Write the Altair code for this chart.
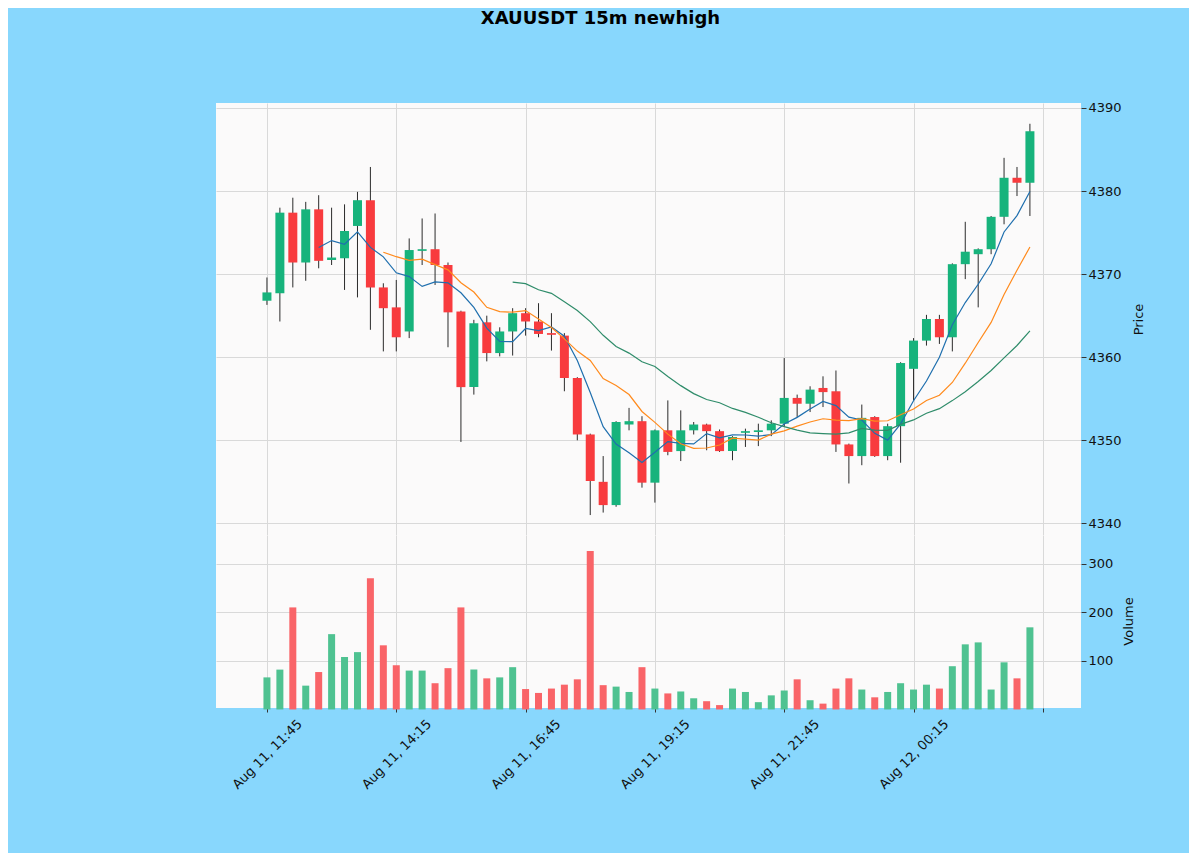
import altair as alt
import pandas as pd

opens = [4366.8, 4367.7, 4377.4, 4371.4, 4377.8, 4371.7, 4371.9, 4375.8, 4378.9, 4368.4,
         4366.0, 4363.1, 4372.8, 4373.0, 4371.1, 4365.5, 4356.4, 4364.2, 4360.5, 4363.1,
         4365.3, 4364.3, 4362.9, 4362.6, 4357.5, 4350.7, 4345.0, 4342.2, 4351.9, 4352.3,
         4344.9, 4351.2, 4348.7, 4351.2, 4351.9, 4351.1, 4348.7, 4350.9, 4351.0, 4351.2,
         4352.0, 4355.1, 4354.4, 4356.3, 4355.9, 4349.5, 4348.1, 4352.8, 4348.1, 4351.7,
         4358.6, 4362.0, 4364.6, 4362.4, 4371.2, 4372.4, 4373.0, 4376.9, 4381.6, 4381.0]
highs = [4369.6, 4378.0, 4379.2, 4378.7, 4379.5, 4378.0, 4378.4, 4379.9, 4382.9, 4368.9,
         4369.3, 4374.3, 4376.7, 4377.3, 4371.4, 4365.6, 4364.5, 4365.0, 4363.6, 4365.9,
         4365.9, 4366.5, 4365.3, 4362.9, 4357.6, 4350.8, 4348.1, 4352.3, 4353.9, 4352.9,
         4351.3, 4354.8, 4353.6, 4352.2, 4352.0, 4351.3, 4350.5, 4351.4, 4352.0, 4352.4,
         4359.9, 4355.5, 4356.5, 4357.7, 4358.4, 4349.6, 4354.3, 4352.9, 4352.0, 4359.4,
         4362.3, 4365.1, 4365.1, 4371.3, 4376.3, 4373.1, 4377.0, 4384.0, 4382.9, 4388.1]
lows = [4366.3, 4364.3, 4368.4, 4369.2, 4370.7, 4371.1, 4368.1, 4367.2, 4363.3, 4360.7,
        4360.7, 4362.3, 4371.1, 4368.7, 4361.2, 4349.8, 4355.5, 4359.5, 4360.1, 4360.2,
        4362.6, 4362.4, 4360.8, 4355.9, 4350.0, 4341.0, 4341.3, 4342.0, 4351.2, 4344.3,
        4342.5, 4348.2, 4347.5, 4350.7, 4348.8, 4348.6, 4347.6, 4349.2, 4349.3, 4350.5,
        4351.6, 4352.8, 4353.4, 4354.0, 4348.6, 4344.8, 4347.0, 4348.0, 4347.6, 4347.3,
        4354.8, 4361.4, 4361.6, 4360.7, 4369.4, 4366.0, 4372.4, 4376.0, 4379.4, 4377.0]
closes = [4367.8, 4377.4, 4371.4, 4377.8, 4371.6, 4372.0, 4375.2, 4378.9, 4368.4, 4365.9,
          4362.4, 4372.9, 4373.0, 4371.1, 4365.4, 4356.4, 4364.1, 4360.5, 4363.1, 4365.3,
          4364.3, 4362.8, 4362.7, 4357.5, 4350.7, 4345.1, 4342.2, 4352.2, 4352.3, 4344.9,
          4351.2, 4348.6, 4351.2, 4351.9, 4351.1, 4348.7, 4350.4, 4351.1, 4351.2, 4352.0,
          4355.1, 4354.4, 4356.1, 4355.8, 4349.5, 4348.1, 4352.7, 4348.1, 4351.7, 4359.3,
          4362.0, 4364.6, 4362.4, 4371.2, 4372.7, 4373.0, 4376.9, 4381.6, 4381.0, 4387.2]
volumes = [66, 82, 210, 49, 77, 155, 108, 118, 270, 132,
           91, 80, 80, 54, 85, 210, 82, 64, 66, 87,
           42, 34, 43, 51, 62, 326, 50, 47, 36, 87,
           43, 33, 37, 23, 17, 9, 43, 36, 15, 29,
           39, 62, 19, 12, 43, 64, 41, 25, 36, 54,
           41, 51, 43, 89, 134, 138, 41, 97, 64, 169]
tick_positions = [0, 10, 20, 30, 40, 50, 60]
tick_labels = ["Aug 11, 11:45", "Aug 11, 14:15", "Aug 11, 16:45", "Aug 11, 19:15",
               "Aug 11, 21:45", "Aug 12, 00:15", ""]
price_ticks = [4340, 4350, 4360, 4370, 4380, 4390]
volume_ticks = [100, 200, 300]

df = pd.DataFrame({
    "idx": list(range(len(opens))),
    "open": opens, "high": highs, "low": lows, "close": closes, "volume": volumes,
})
df["dir"] = ["up" if c >= o else "down" for o, c in zip(opens, closes)]

FONT = "DejaVu Sans"
UP, DOWN = "#17b37c", "#f83b3e"
VUP, VDOWN = "#4fc291", "#f96468"
W = 865
label_expr = "[" + ",".join("'" + s + "'" for s in tick_labels) + "][round(datum.value/10)]"
xscale = alt.Scale(domain=[-3.94, 62.95], nice=False, zero=False, padding=0)

x_price = alt.X("idx:Q", scale=xscale,
                axis=alt.Axis(values=tick_positions, labels=False, ticks=False, domain=False,
                              grid=True, title=None))
x_vol = alt.X("idx:Q", scale=xscale,
              axis=alt.Axis(values=tick_positions, labelExpr=label_expr, grid=True, domain=False,
                            ticks=True, tickSize=4, labelAngle=-45, labelAlign="center",
                            labelBaseline="middle", labelPadding=42, title=None))

yprice = alt.Scale(domain=[4338.6, 4390.6], nice=False, zero=False, padding=0)
ycol = alt.Color("dir:N", scale=alt.Scale(domain=["up", "down"], range=[UP, DOWN]), legend=None)

base = alt.Chart(df)
wicks = base.mark_rule(color="#2b2b2b", strokeWidth=1).encode(
    x=x_price,
    y=alt.Y("low:Q", scale=yprice,
            axis=alt.Axis(orient="right", values=price_ticks, format="d", title="Price",
                          titleAngle=270, titleBaseline="middle", titleAlign="center",
                          titleX=57, titleY=216, domain=False, tickSize=5)),
    y2="high:Q",
)
bodies = base.mark_bar(size=9).encode(
    x=x_price,
    y=alt.Y("open:Q", scale=yprice),
    y2="close:Q",
    color=ycol,
)

def ma_line(n, color):
    return base.transform_window(
        ma="mean(close)", frame=[-(n - 1), 0], sort=[alt.SortField("idx")]
    ).transform_filter(alt.datum.idx >= n - 1).mark_line(
        color=color, strokeWidth=1.2
    ).encode(x=x_price, y=alt.Y("ma:Q", scale=yprice))

price = alt.layer(wicks, bodies, ma_line(5, "#1f6fae"), ma_line(10, "#ff8a1c"),
                  ma_line(20, "#2f8c6a")).properties(width=W, height=432)

vol = base.mark_bar(size=7).encode(
    x=x_vol,
    y=alt.Y("volume:Q", scale=alt.Scale(domain=[3, 359], nice=False, zero=False, padding=0),
            axis=alt.Axis(orient="right", values=volume_ticks, title="Volume", titleAngle=270,
                          titleBaseline="middle", titleAlign="center",
                          titleX=47, titleY=86, domain=False, tickSize=5)),
    color=alt.Color("dir:N", scale=alt.Scale(domain=["up", "down"], range=[VUP, VDOWN]),
                    legend=None),
).properties(width=W, height=173)

chart = alt.vconcat(price, vol, spacing=0).resolve_scale(color="independent").properties(
    title=alt.TitleParams("XAUUSDT 15m newhigh", font=FONT, fontSize=18, fontWeight="bold",
                          anchor="middle", dx=-80, offset=74, color="#000000"),
    padding={"left": 208, "top": 1, "right": 44, "bottom": 61},
).configure(background="#88d7fd").configure_view(
    fill="#fbfafa", stroke=None
).configure_axis(
    labelFont=FONT, titleFont=FONT, labelFontSize=13, titleFontSize=13,
    titleFontWeight="normal", labelColor="#111111", titleColor="#111111",
    gridColor="#d9d9d9", gridWidth=1, tickColor="#333333"
).configure_concat(spacing=0)

chart.save("out.html", embed_options={"renderer": "svg", "actions": False})
